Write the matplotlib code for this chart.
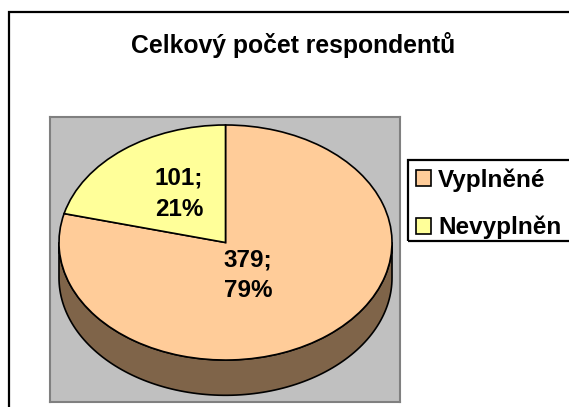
#!/usr/bin/env python3
# Celkovy pocet respondentu - 3D style pie chart, Excel look

import numpy as np
import matplotlib
matplotlib.use("Agg")
import matplotlib.pyplot as plt
from matplotlib.patches import Polygon, Rectangle

# Data
categories = ["Vyplněné", "Nevyplněn"]
counts = [379, 101]
colors = ["#FFCC99", "#FFFF99"]
side_colors = ["#7F6449", "#8C8C4D"]
title = "Celkový počet respondentů"

plt.rcParams["font.family"] = ["Liberation Sans", "DejaVu Sans"]
plt.rcParams["font.weight"] = "bold"

fig = plt.figure(figsize=(5.69, 4.07), dpi=100)

# outer chart frame (runs off right and bottom edge like the original)
fig.patches.append(Rectangle((9 / 569, -0.1), 1.0, 1.1 - 12 / 407,
                             transform=fig.transFigure, fill=False,
                             edgecolor="black", linewidth=1.6, zorder=0))

fig.text(0.515, 0.889, title, ha="center", va="center", fontsize=17.8,
         fontweight="bold")

# plot area
ax = fig.add_axes([50 / 569, 5 / 407, 350 / 569, 285 / 407])
total = sum(counts)


def fmt(pct):
    val = int(round(pct * total / 100.0))
    return f"{val};\n{pct:.0f}%"


wedges, texts, autotexts = ax.pie(
    counts, colors=colors, startangle=90, counterclock=False,
    autopct=fmt, pctdistance=0.4,
    wedgeprops=dict(edgecolor="black", linewidth=1.2),
    textprops=dict(fontsize=17.5, fontweight="bold", linespacing=1.45))

ax.set_aspect("auto")
ax.set_xlim(-1.054, 1.048)
ax.set_ylim(-1.357, 1.068)
ax.set_frame_on(True)
ax.set_facecolor("#C0C0C0")
for sp in ax.spines.values():
    sp.set_color("#808080")
    sp.set_linewidth(1.5)
ax.set_xticks([])
ax.set_yticks([])

# side of the pie (front half only)
depth = 0.30
for w, sc in zip(wedges, side_colors):
    for shift in (-360, 0, 360):
        a = max(w.theta1 + shift, -180)
        b = min(w.theta2 + shift, 0)
        if b <= a:
            continue
        t = np.radians(np.linspace(a, b, 120))
        top = np.column_stack([np.cos(t), np.sin(t)])
        bot = np.column_stack([np.cos(t), np.sin(t) - depth])[::-1]
        ax.add_patch(Polygon(np.vstack([top, bot]), closed=True,
                             facecolor=sc, edgecolor="black",
                             linewidth=1.2, zorder=0.5))

# label placement per slice (radius, angle nudge in degrees)
label_r = [0.31, 0.5]
label_nudge = [-12, -4]
for w, at, r, dn in zip(wedges, autotexts, label_r, label_nudge):
    mid = np.radians((w.theta1 + w.theta2) / 2 + dn)
    at.set_position((r * np.cos(mid), r * np.sin(mid)))
    at.set_zorder(5)

leg = fig.legend(wedges, categories, loc="upper left",
                 bbox_to_anchor=(410 / 569, 1 - 162 / 407),
                 borderaxespad=0, fontsize=17.5, frameon=False,
                 handlelength=0.6, handleheight=0.6,
                 handletextpad=0.3, labelspacing=1.0, borderpad=0.25)
for h in leg.legend_handles:
    h.set_linewidth(1.2)

# legend frame, open to the right edge
fig.patches.append(Rectangle((408 / 569, 1 - 241 / 407), 0.5, 81 / 407,
                             transform=fig.transFigure, fill=False,
                             edgecolor="black", linewidth=1.6, zorder=1))

fig.savefig("out.png", dpi=100)
